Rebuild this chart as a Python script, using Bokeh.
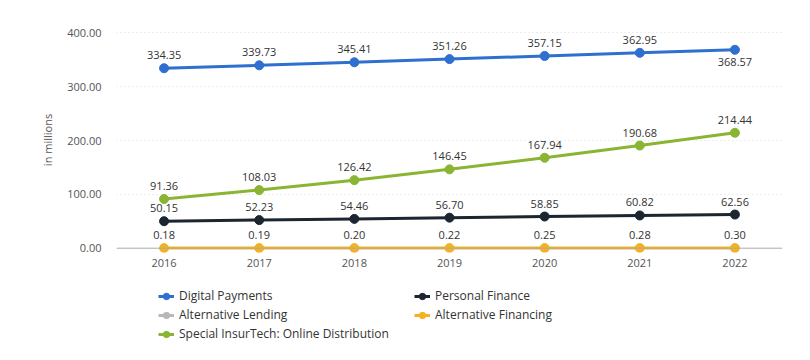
from bokeh.plotting import figure
from bokeh.layouts import column
from bokeh.models import (ColumnDataSource, Range1d, FixedTicker, NumeralTickFormatter,
                          Span, Legend, LegendItem)
from bokeh.core.properties import value
from bokeh.embed import file_html
from bokeh.resources import INLINE

years = [2016, 2017, 2018, 2019, 2020, 2021, 2022]
digital_payments = [334.35, 339.73, 345.41, 351.26, 357.15, 362.95, 368.57]
personal_finance = [50.15, 52.23, 54.46, 56.70, 58.85, 60.82, 62.56]
alternative_lending = []  # series hidden in the reference (legend entry only)
alternative_financing = [0.18, 0.19, 0.20, 0.22, 0.25, 0.28, 0.30]
insurtech_online = [91.36, 108.03, 126.42, 146.45, 167.94, 190.68, 214.44]
y_ticks = [0, 100, 200, 300, 400]

FONT = "Open Sans"

p = figure(width=802, height=280, output_backend="svg", toolbar_location=None,
           x_range=Range1d(2015.5, 2022.5), y_range=Range1d(-8, 410),
           min_border_left=116, min_border_right=20, min_border_top=27,
           min_border_bottom=28)
p.outline_line_color = None
p.background_fill_color = "white"
p.border_fill_color = "white"

# axes
p.xaxis.ticker = FixedTicker(ticks=years)
p.xaxis.axis_line_color = None
p.xaxis.major_tick_line_color = None
p.xaxis.minor_tick_line_color = None
p.xaxis.major_tick_out = 0
p.xaxis.major_label_standoff = 6
p.xaxis.major_label_text_font = FONT
p.xaxis.major_label_text_font_size = "11px"
p.xaxis.major_label_text_color = "#555555"

p.yaxis.ticker = FixedTicker(ticks=y_ticks)
p.yaxis.formatter = NumeralTickFormatter(format="0.00")
p.yaxis.axis_line_color = None
p.yaxis.major_tick_line_color = None
p.yaxis.minor_tick_line_color = None
p.yaxis.major_tick_out = 0
p.yaxis.major_label_standoff = 15
p.yaxis.major_label_text_font = FONT
p.yaxis.major_label_text_font_size = "11px"
p.yaxis.major_label_text_color = "#555555"
p.yaxis.axis_label = "in millions"
p.yaxis.axis_label_text_font = FONT
p.yaxis.axis_label_text_font_size = "11px"
p.yaxis.axis_label_text_font_style = "normal"
p.yaxis.axis_label_text_color = "#555555"
p.yaxis.axis_label_standoff = 9

p.xgrid.grid_line_color = None
p.ygrid.ticker = FixedTicker(ticks=y_ticks[1:])
p.ygrid.grid_line_color = "#dddddd"
p.ygrid.grid_line_dash = "1 3"
p.ygrid.grid_line_width = 1

p.add_layout(Span(location=0, dimension="width", line_color="#aaaaaa", line_width=1))

series = [
    ("Digital Payments", digital_payments, "#2f6fcf"),
    ("Personal Finance", personal_finance, "#1b2631"),
    ("Alternative Lending", alternative_lending, "#b8b8b8"),
    ("Alternative Financing", alternative_financing, "#f4b122"),
    ("Special InsurTech: Online Distribution", insurtech_online, "#8ab533"),
]

# legend figure (below the chart); its renderers are off-range proxies for the legend only
lg = figure(width=802, height=78, output_backend="svg", toolbar_location=None,
            x_range=Range1d(0, 1), y_range=Range1d(0, 1),
            min_border_left=0, min_border_right=0, min_border_top=0, min_border_bottom=0)
lg.axis.visible = False
lg.grid.visible = False
lg.outline_line_color = None
lg.background_fill_color = "white"
lg.border_fill_color = "white"
proxy = ColumnDataSource(dict(x=[-5.0], y=[-5.0]))

items = []
label_sources = []
for name, vals, color in series:
    xs = years[:len(vals)]
    offsets = [-9] * len(vals)
    baselines = ["bottom"] * len(vals)
    if name == "Digital Payments" and vals:
        offsets[-1] = 8
        baselines[-1] = "top"
    src = ColumnDataSource(dict(x=xs, y=vals, label=[f"{v:.2f}" for v in vals],
                                off=offsets, base=baselines))
    p.line("x", "y", source=src, line_color=color, line_width=3)
    p.scatter("x", "y", source=src, size=9, fill_color=color, line_color=color)
    if vals:
        label_sources.append(src)
    l1 = lg.line("x", "y", source=proxy, line_color=color, line_width=3)
    l2 = lg.scatter("x", "y", source=proxy, size=9, fill_color=color, line_color=color)
    items.append(LegendItem(label=name, renderers=[l1, l2]))

for src in label_sources:
    p.text("x", "y", text="label", source=src, y_offset="off", text_baseline="base",
           text_align="center", text_font=value(FONT), text_font_size="11px",
           text_color="#333333")

legend = Legend(items=items, orientation="horizontal", ncols=2,
                location=(42, 16), padding=0, margin=0, spacing=2,
                glyph_width=16, glyph_height=16, label_height=16, label_width=233,
                label_standoff=5, label_text_font=FONT, label_text_font_size="12px",
                label_text_color="#333333", border_line_color=None,
                background_fill_alpha=0)
lg.add_layout(legend, "center")

layout = column(p, lg, spacing=0)
open("out.html", "w").write(file_html(layout, INLINE))
